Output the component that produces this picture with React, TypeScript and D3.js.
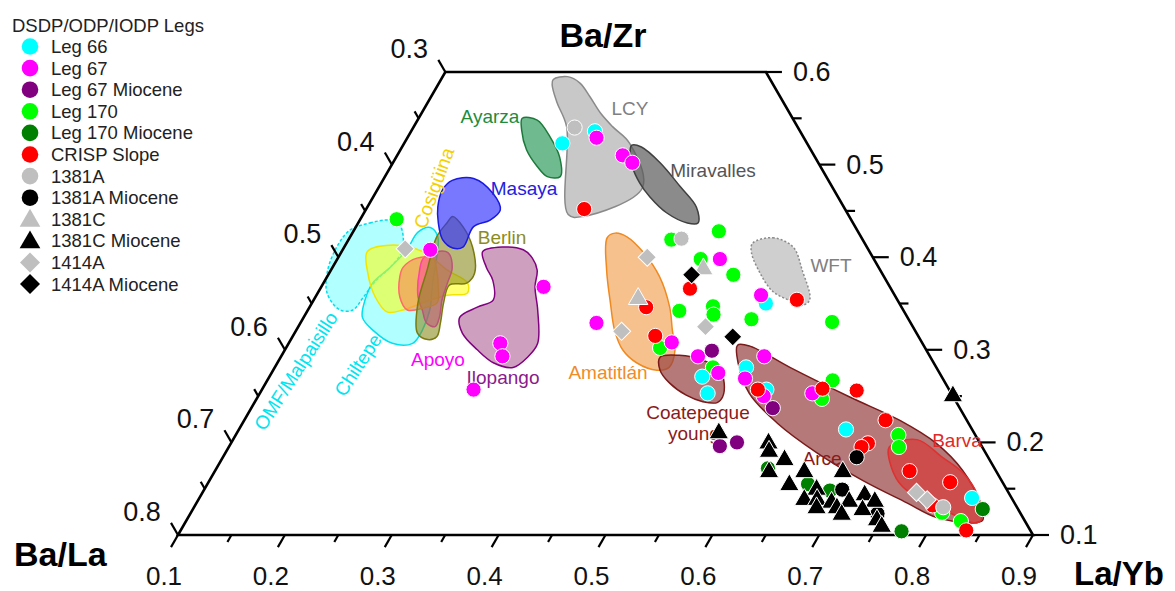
import React from 'react';
import * as d3 from 'd3';

type P = [number, number]; // [La/Yb, Ba/Zr] ternary fractions (Ba/La = 1 - La/Yb - Ba/Zr)

// ---------- axis ticks ----------
const laYbTicks = [0.1, 0.2, 0.3, 0.4, 0.5, 0.6, 0.7, 0.8, 0.9];
const baLaTicks = [0.3, 0.4, 0.5, 0.6, 0.7, 0.8];
const baZrTicks = [0.1, 0.2, 0.3, 0.4, 0.5, 0.6];

// ---------- sample series ----------
const leg66: P[] = [[0.272,0.536],[0.248,0.523],[0.541,0.281],[0.572,0.257],[0.505,0.271],[0.519,0.253],[0.525,0.350],[0.668,0.214],[0.823,0.140]];
const leg67: P[] = [[0.277,0.529],[0.311,0.510],[0.324,0.502],[0.458,0.398],[0.516,0.359],[0.308,0.368],[0.377,0.329],[0.458,0.308],[0.490,0.293],[0.518,0.275],[0.552,0.293],[0.546,0.269],[0.573,0.250],[0.617,0.253],[0.182,0.408],[0.298,0.307],[0.307,0.293],[0.298,0.257]];
const leg67Miocene: P[] = [[0.500,0.299],[0.588,0.237],[0.559,0.196],[0.573,0.200]];
const leg170: P[] = [[0.134,0.441],[0.442,0.428],[0.402,0.419],[0.440,0.398],[0.479,0.381],[0.448,0.342],[0.477,0.347],[0.482,0.338],[0.520,0.333],[0.450,0.302],[0.510,0.281],[0.597,0.330],[0.629,0.267],[0.629,0.247],[0.720,0.208],[0.727,0.195],[0.803,0.124],[0.825,0.115]];
const leg170Miocene: P[] = [[0.616,0.172],[0.662,0.155],[0.686,0.148],[0.775,0.104],[0.839,0.128]];
const crispSlope: P[] = [[0.304,0.452],[0.446,0.366],[0.552,0.354],[0.415,0.346],[0.439,0.315],[0.564,0.257],[0.624,0.258],[0.657,0.256],[0.700,0.224],[0.696,0.199],[0.692,0.195],[0.750,0.169],[0.794,0.157],[0.835,0.105],[0.790,0.132]];
const site1381A: P[] = [[0.251,0.540],[0.411,0.420],[0.801,0.130]];
const site1381AMiocene: P[] = [[0.693,0.184],[0.697,0.149],[0.743,0.123]];
const site1381C: P[] = [[0.448,0.387],[0.403,0.355]];
const site1381CMiocene: P[] = [[0.750,0.250],[0.551,0.210],[0.603,0.199],[0.608,0.190],[0.627,0.181],[0.619,0.168],[0.652,0.168],[0.688,0.168],[0.645,0.154],[0.673,0.149],[0.667,0.138],[0.679,0.138],[0.694,0.135],[0.710,0.136],[0.721,0.143],[0.734,0.136],[0.683,0.129],[0.702,0.129],[0.727,0.127],[0.710,0.122],[0.746,0.116],[0.754,0.109]];
const site1414A: P[] = [[0.158,0.409],[0.389,0.400],[0.405,0.320],[0.481,0.325],[0.768,0.146],[0.782,0.138]];
const site1414AMiocene: P[] = [[0.440,0.381],[0.512,0.314]];

// ---------- volcanic fields (outlines) ----------
const lcy: P[] = [[0.205,0.592],[0.217,0.595],[0.232,0.588],[0.249,0.573],[0.267,0.556],[0.286,0.541],[0.311,0.523],[0.347,0.475],[0.307,0.444],[0.292,0.446],[0.243,0.541],[0.221,0.567],[0.207,0.586]];
const miravalles: P[] = [[0.314,0.521],[0.324,0.519],[0.350,0.502],[0.382,0.476],[0.408,0.454],[0.418,0.437],[0.408,0.437],[0.383,0.448],[0.359,0.465],[0.342,0.480],[0.326,0.498],[0.315,0.516]];
const ayarza: P[] = [[0.197,0.550],[0.212,0.548],[0.233,0.530],[0.253,0.508],[0.264,0.487],[0.252,0.487],[0.237,0.498],[0.218,0.516],[0.203,0.537]];
const masaya: P[] = [[0.161,0.473],[0.165,0.483],[0.184,0.485],[0.210,0.469],[0.226,0.451],[0.222,0.440],[0.210,0.433],[0.211,0.411],[0.202,0.410],[0.188,0.419],[0.175,0.437],[0.166,0.454]];
const berlin: P[] = [[0.185,0.444],[0.200,0.433],[0.220,0.411],[0.236,0.383],[0.234,0.372],[0.219,0.370],[0.223,0.351],[0.231,0.329],[0.235,0.314],[0.228,0.311],[0.215,0.318],[0.199,0.351],[0.190,0.386],[0.181,0.422],[0.183,0.437]];
const apoyo: P[] = [[0.180,0.399],[0.189,0.406],[0.200,0.405],[0.212,0.389],[0.216,0.372],[0.220,0.354],[0.227,0.335],[0.228,0.325],[0.218,0.329],[0.207,0.343],[0.196,0.357],[0.183,0.386]];
const cosiguina: P[] = [[0.124,0.406],[0.142,0.413],[0.176,0.406],[0.209,0.386],[0.235,0.372],[0.240,0.361],[0.222,0.359],[0.204,0.351],[0.189,0.343],[0.175,0.341],[0.156,0.357],[0.136,0.383]];
const orangeField: P[] = [[0.166,0.389],[0.174,0.399],[0.189,0.399],[0.199,0.386],[0.211,0.365],[0.217,0.351],[0.207,0.345],[0.193,0.343],[0.179,0.357],[0.168,0.379]];
const chiltepe: P[] = [[0.161,0.427],[0.170,0.432],[0.182,0.422],[0.192,0.400],[0.201,0.375],[0.214,0.343],[0.218,0.321],[0.216,0.307],[0.197,0.307],[0.172,0.321],[0.155,0.335],[0.148,0.354],[0.146,0.372],[0.154,0.389],[0.160,0.408]];
const omfMalpaisillo: P[] = [[0.096,0.429],[0.111,0.437],[0.128,0.440],[0.140,0.435],[0.156,0.408],[0.154,0.389],[0.148,0.375],[0.145,0.357],[0.142,0.343],[0.130,0.343],[0.109,0.361],[0.097,0.386],[0.093,0.411]];
const ilopango: P[] = [[0.232,0.406],[0.248,0.411],[0.269,0.408],[0.282,0.399],[0.293,0.386],[0.300,0.368],[0.315,0.343],[0.333,0.307],[0.331,0.292],[0.323,0.281],[0.302,0.286],[0.280,0.300],[0.257,0.318],[0.246,0.335],[0.257,0.346],[0.268,0.354],[0.257,0.375],[0.244,0.389]];
const amatitlan: P[] = [[0.341,0.421],[0.346,0.426],[0.359,0.422],[0.383,0.405],[0.411,0.379],[0.437,0.346],[0.452,0.321],[0.465,0.300],[0.469,0.281],[0.459,0.278],[0.436,0.286],[0.416,0.300],[0.398,0.321],[0.379,0.351],[0.358,0.386]];
const coatepeque: P[] = [[0.455,0.292],[0.472,0.294],[0.496,0.289],[0.518,0.278],[0.529,0.264],[0.535,0.249],[0.533,0.243],[0.519,0.244],[0.500,0.251],[0.478,0.264],[0.462,0.278]];
const arce: P[] = [[0.521,0.305],[0.533,0.304],[0.582,0.281],[0.654,0.249],[0.713,0.224],[0.760,0.199],[0.799,0.170],[0.833,0.135],[0.845,0.116],[0.837,0.113],[0.800,0.119],[0.764,0.135],[0.711,0.159],[0.653,0.189],[0.600,0.221],[0.558,0.253],[0.531,0.286]];
const barva: P[] = [[0.718,0.195],[0.740,0.203],[0.773,0.184],[0.801,0.167],[0.825,0.145],[0.843,0.119],[0.841,0.113],[0.810,0.124],[0.778,0.138],[0.752,0.152],[0.731,0.173]];
const wft: P[] = [[0.480,0.415],[0.496,0.421],[0.520,0.411],[0.541,0.386],[0.564,0.354],[0.560,0.348],[0.549,0.352],[0.525,0.363],[0.503,0.383],[0.484,0.405]];

const FONT = "'Liberation Sans', Arial, Helvetica, sans-serif";

type Shape = 'circle' | 'triangle' | 'diamond';
interface Series { name: string; data: P[]; shape: Shape; color: string }

const legendSeries: Series[] = [
  { name: 'Leg 66', data: leg66, shape: 'circle', color: '#00FFFF' },
  { name: 'Leg 67', data: leg67, shape: 'circle', color: '#FF00FF' },
  { name: 'Leg 67 Miocene', data: leg67Miocene, shape: 'circle', color: '#800080' },
  { name: 'Leg 170', data: leg170, shape: 'circle', color: '#00FF00' },
  { name: 'Leg 170 Miocene', data: leg170Miocene, shape: 'circle', color: '#008000' },
  { name: 'CRISP Slope', data: crispSlope, shape: 'circle', color: '#FF0000' },
  { name: '1381A', data: site1381A, shape: 'circle', color: '#BFBFBF' },
  { name: '1381A Miocene', data: site1381AMiocene, shape: 'circle', color: '#000000' },
  { name: '1381C', data: site1381C, shape: 'triangle', color: '#BFBFBF' },
  { name: '1381C Miocene', data: site1381CMiocene, shape: 'triangle', color: '#000000' },
  { name: '1414A', data: site1414A, shape: 'diamond', color: '#BFBFBF' },
  { name: '1414A Miocene', data: site1414AMiocene, shape: 'diamond', color: '#000000' },
];
// drawing order (later = on top)
const drawOrder = [3, 4, 0, 1, 2, 5, 6, 7, 8, 9, 10, 11];

interface Field { data: P[]; fill: string; fillOpacity: number; stroke: string; dash?: string }
const fields: Field[] = [
  { data: omfMalpaisillo, fill: '#00FFFF', fillOpacity: 0.3, stroke: '#00DDEE', dash: '3,2' },
  { data: chiltepe, fill: '#00FFFF', fillOpacity: 0.3, stroke: '#00E0F0' },
  { data: cosiguina, fill: '#FFFF00', fillOpacity: 0.55, stroke: '#F2E600' },
  { data: apoyo, fill: '#FF00FF', fillOpacity: 0.55, stroke: '#FF00FF' },
  { data: orangeField, fill: '#FF7A50', fillOpacity: 0.55, stroke: '#FF6A6A' },
  { data: berlin, fill: '#8C8C1E', fillOpacity: 0.6, stroke: '#7A7A10' },
  { data: masaya, fill: '#3030FF', fillOpacity: 0.65, stroke: '#1A1AE0' },
  { data: ilopango, fill: '#A0407F', fillOpacity: 0.5, stroke: '#800080' },
  { data: ayarza, fill: '#3FA46A', fillOpacity: 0.75, stroke: '#1E7A3C' },
  { data: lcy, fill: '#C8C8C8', fillOpacity: 1, stroke: '#8A8A8A' },
  { data: miravalles, fill: '#5A5A5A', fillOpacity: 0.7, stroke: '#404040' },
  { data: wft, fill: '#CFCFCF', fillOpacity: 1, stroke: '#8A8A8A', dash: '2,2' },
  { data: amatitlan, fill: '#F2A050', fillOpacity: 0.65, stroke: '#F08A20' },
  { data: coatepeque, fill: '#964040', fillOpacity: 0.7, stroke: '#7A1A1A' },
  { data: arce, fill: '#964040', fillOpacity: 0.7, stroke: '#7A1A1A' },
  { data: barva, fill: '#E02828', fillOpacity: 0.55, stroke: '#E03030' },
];

export default function App() {
  const W = 1175, H = 591;
  const xLaYb = d3.scaleLinear().domain([0.1, 0.9]).range([178, 1033]);
  const yBaZr = d3.scaleLinear().domain([0.1, 0.6]).range([535, 72]);
  const base = yBaZr(0.1);
  const proj = (a: number, c: number): [number, number] => {
    const y = yBaZr(c);
    return [xLaYb(a) + (base - y) / Math.sqrt(3), y];
  };
  const s3 = Math.sqrt(3) / 2;

  const outline = [proj(0.1, 0.1), proj(0.1, 0.6), proj(0.4, 0.6), proj(0.9, 0.1)];
  const area = d3.line<[number, number]>().curve(d3.curveCatmullRomClosed.alpha(0.5));

  const minor = d3.range(0, 17).map((i) => 0.1 + i * 0.05);
  const isMajor = (v: number) => Math.abs(v * 10 - Math.round(v * 10)) < 1e-6;

  const symPath = (shape: Shape, big: boolean) => {
    if (shape === 'triangle') return d3.symbol(d3.symbolTriangle, big ? 185 : 165)() as string;
    if (shape === 'diamond') return d3.symbol(d3.symbolSquare, big ? 200 : 165)() as string;
    return '';
  };

  const marker = (shape: Shape, color: string, x: number, y: number, key: string, big = false) => {
    const stroke = big ? 'none' : '#FFFFFF';
    if (shape === 'circle') return <circle key={key} cx={x} cy={y} r={big ? 8.3 : 7.6} fill={color} stroke={stroke} strokeWidth={1} />;
    const rot = shape === 'diamond' ? ' rotate(45)' : '';
    return <path key={key} d={symPath(shape, big)} transform={`translate(${x},${y})${rot}`} fill={color} stroke={stroke} strokeWidth={1} />;
  };

  const bottomTicks = minor.map((v) => {
    const [x, y] = proj(v, 0.1);
    const len = isMajor(v) ? 14 : 8;
    return <line key={'b' + v} x1={x} y1={y} x2={x - 0.5 * len} y2={y + s3 * len} stroke="#000" strokeWidth={2.2} />;
  });
  const leftTicks = d3.range(0, 11).map((i) => {
    const b = 0.3 + i * 0.05;
    const [x, y] = proj(0.1, 0.9 - b);
    const len = isMajor(b) ? 14 : 8;
    return <line key={'l' + i} x1={x} y1={y} x2={x - 0.5 * len} y2={y - s3 * len} stroke="#000" strokeWidth={2.2} />;
  });
  const rightTicks = d3.range(0, 11).map((i) => {
    const c = 0.1 + i * 0.05;
    const [x, y] = proj(1 - c, c);
    const len = isMajor(c) ? 16 : 9;
    return <line key={'r' + i} x1={x} y1={y} x2={x + len} y2={y} stroke="#000" strokeWidth={2.2} />;
  });

  const regionLabel = (text: string, x: number, y: number, color: string, rot = 0, anchor = 'middle') => (
    <text key={text} x={x} y={y} fill={color} fontSize={19} fontFamily={FONT} textAnchor={anchor}
      dominantBaseline="central" transform={rot ? `rotate(${rot},${x},${y})` : undefined}>{text}</text>
  );

  return (
    <svg width={W} height={H} style={{ position: 'absolute', left: 0, top: 0, background: '#fff' }}>
      {/* volcanic fields */}
      {fields.map((f, i) => (
        <path key={'f' + i} d={area(f.data.map((p) => proj(p[0], p[1]))) as string}
          fill={f.fill} fillOpacity={f.fillOpacity} stroke={f.stroke} strokeWidth={1.5}
          strokeDasharray={f.dash} />
      ))}

      {/* frame */}
      <polygon points={outline.map((p) => p.join(',')).join(' ')} fill="none" stroke="#000" strokeWidth={2.6} strokeLinejoin="miter" />
      {bottomTicks}
      {leftTicks}
      {rightTicks}

      {/* tick labels */}
      {laYbTicks.map((v) => {
        const [x] = proj(v, 0.1);
        return <text key={'bl' + v} x={x - 14} y={585} fontSize={26} fontFamily={FONT} textAnchor="middle" fill="#111">{v.toFixed(1)}</text>;
      })}
      {baLaTicks.map((b) => {
        const [x, y] = proj(0.1, 0.9 - b);
        return <text key={'ll' + b} x={x - 36} y={y - 23} fontSize={27} fontFamily={FONT} textAnchor="middle" dominantBaseline="central" fill="#111">{b.toFixed(1)}</text>;
      })}
      {baZrTicks.map((c) => {
        const [x, y] = proj(1 - c, c);
        return <text key={'rl' + c} x={x + 27} y={y} fontSize={27} fontFamily={FONT} textAnchor="start" dominantBaseline="central" fill="#111">{c.toFixed(1)}</text>;
      })}

      {/* axis titles */}
      <text x={603} y={47} fontSize={34} fontWeight="bold" fontFamily={FONT} textAnchor="middle" fill="#000">Ba/Zr</text>
      <text x={14} y={566} fontSize={34} fontWeight="bold" fontFamily={FONT} textAnchor="start" fill="#000">Ba/La</text>
      <text x={1074} y={585} fontSize={33} fontWeight="bold" fontFamily={FONT} textAnchor="start" fill="#000">La/Yb</text>

      {/* region labels */}
      {regionLabel('LCY', 630, 108, '#7F7F7F')}
      {regionLabel('Miravalles', 713, 170, '#555555')}
      {regionLabel('Ayarza', 490, 116, '#1E8C3C')}
      {regionLabel('Masaya', 524, 188, '#2222DD')}
      {regionLabel('Berlin', 502, 237, '#8C8C1E')}
      {regionLabel('WFT', 831, 265, '#808080')}
      {regionLabel('Amatitlán', 608, 372, '#F08C28')}
      {regionLabel('Coatepeque', 698, 412, '#8B1A1A')}
      {regionLabel('young', 668, 433, '#8B1A1A', 0, 'start')}
      {regionLabel('Arce', 822, 458, '#8B1A1A')}
      {regionLabel('Barva', 957, 440, '#E02828')}
      {regionLabel('Apoyo', 438, 359, '#FF00FF')}
      {regionLabel('Ilopango', 503, 377, '#8B1A8B')}
      {regionLabel('Cosigüina', 434, 188, '#F5D000', -70)}
      {regionLabel('OMF/Malpaisillo', 296, 371, '#00E5F0', -57)}
      {regionLabel('Chiltepe', 358, 365, '#00E5F0', -57)}

      {/* samples */}
      {drawOrder.map((si) => {
        const s = legendSeries[si];
        return (
          <g key={'s' + si}>
            {s.data.map((p, j) => {
              const [x, y] = proj(p[0], p[1]);
              return marker(s.shape, s.color, x, y, `${si}-${j}`);
            })}
          </g>
        );
      })}

      {/* legend */}
      <text x={12} y={32} fontSize={18.5} fontFamily={FONT} fill="#222">DSDP/ODP/IODP Legs</text>
      {legendSeries.map((s, i) => {
        const y = 46.5 + i * 21.6;
        return (
          <g key={'lg' + i}>
            {marker(s.shape, s.color, 30, y + (s.shape === 'triangle' ? 1.5 : 0), 'lm' + i, true)}
            <text x={51} y={y} fontSize={18.5} fontFamily={FONT} fill="#222" dominantBaseline="central">{s.name}</text>
          </g>
        );
      })}
    </svg>
  );
}
